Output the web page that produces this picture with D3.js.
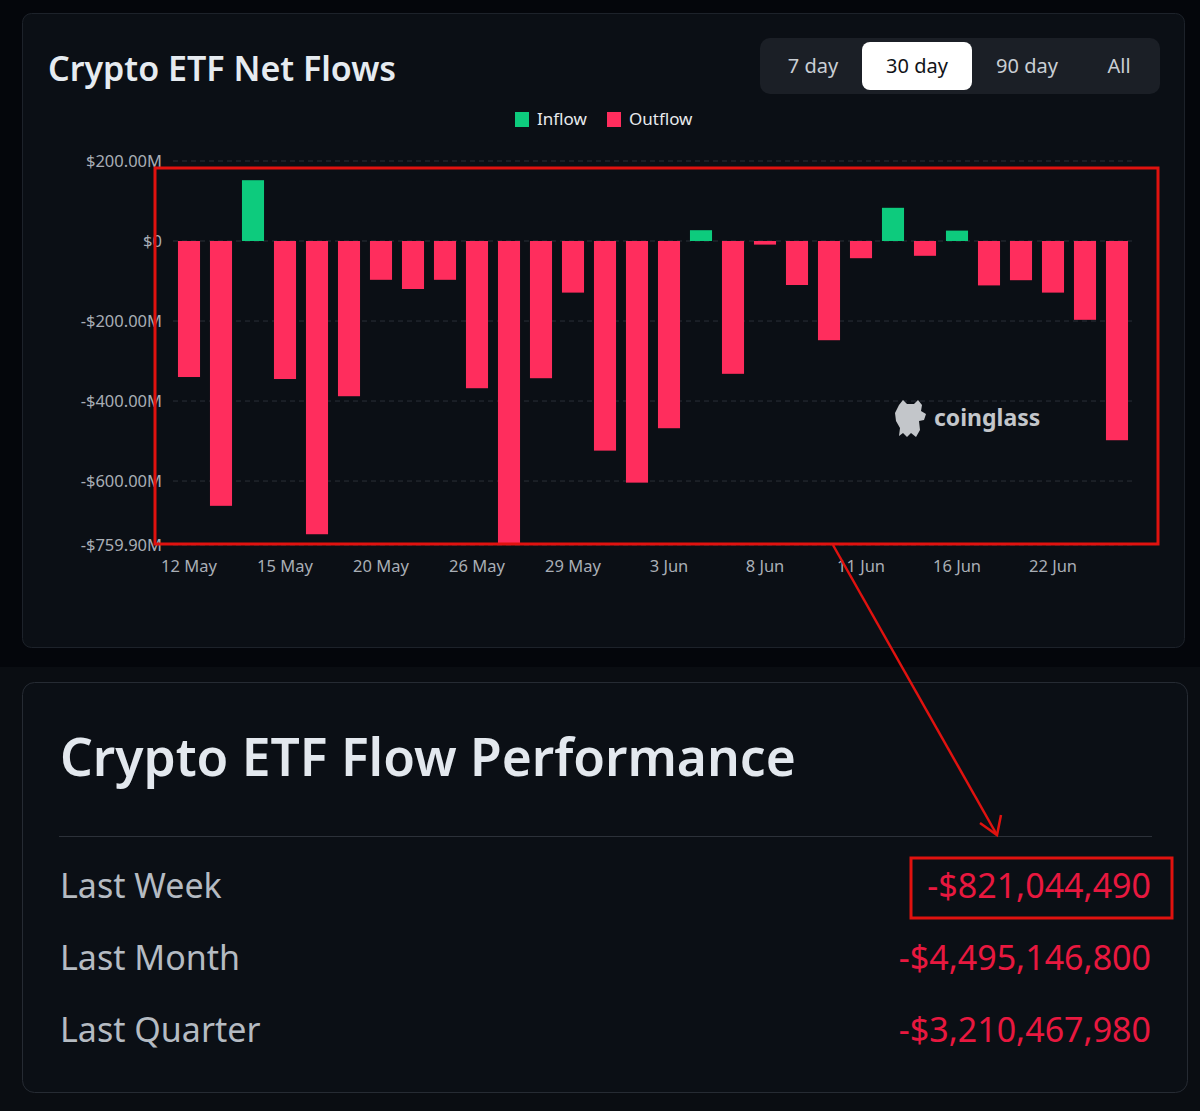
<!DOCTYPE html>
<html>
<head>
<meta charset="utf-8">
<script src="https://cdn.jsdelivr.net/npm/d3@7"></script>
<style>
  html, body { margin: 0; padding: 0; background: #05070c; }
  svg { display: block; }
  text { font-family: "Noto Sans", Roboto, sans-serif; }
</style>
</head>
<body>
<svg id="chart" width="1200" height="1111"></svg>
<script>
// chart data
var dates = ["12 May", "13 May", "14 May", "15 May", "16 May", "19 May", "20 May", "21 May", "22 May", "26 May",
             "27 May", "28 May", "29 May", "30 May", "2 Jun", "3 Jun", "4 Jun", "5 Jun", "8 Jun", "9 Jun",
             "10 Jun", "11 Jun", "12 Jun", "13 Jun", "16 Jun", "17 Jun", "18 Jun", "22 Jun", "23 Jun", "24 Jun"];
// net flows in $M
var flows = [-340, -662, 152, -345, -733, -388, -97, -120, -97, -368,
             -759.9, -343, -129, -524, -604, -468, 27, -332, -9, -110,
             -248, -43, 83, -37, 26, -111, -98, -129, -197, -498];
var yTicks = [200, 0, -200, -400, -600, -759.9];
var xLabels = ["12 May", "15 May", "20 May", "26 May", "29 May", "3 Jun", "8 Jun", "11 Jun", "16 Jun", "22 Jun"];
var periods = ["7 day", "30 day", "90 day", "All"];
var activePeriod = "30 day";
var perfLabels = ["Last Week", "Last Month", "Last Quarter"];
var perfValues = [-821044490, -4495146800, -3210467980];

var svg = d3.select("#chart");
var red = "#ff2d5d", green = "#0dcb7d";

// backgrounds
svg.append("rect").attr("x", 0).attr("y", 0).attr("width", 1200).attr("height", 667).attr("fill", "#04060b");
svg.append("rect").attr("x", 0).attr("y", 667).attr("width", 1200).attr("height", 444).attr("fill", "#0a0d12");
svg.append("rect").attr("x", 22.5).attr("y", 13.5).attr("width", 1162).attr("height", 634).attr("rx", 9)
    .attr("fill", "#0b0f15").attr("stroke", "#1d222a");
svg.append("rect").attr("x", 22.5).attr("y", 682.5).attr("width", 1165).attr("height", 410).attr("rx", 12)
    .attr("fill", "#0b0f15").attr("stroke", "#262b33");

// title
svg.append("text").attr("x", 48).attr("y", 81).text("Crypto ETF Net Flows")
    .attr("font-size", 34).attr("font-weight", 600).attr("fill", "#e6ebf0");

// period switch
var sw = svg.append("g");
sw.append("rect").attr("x", 760).attr("y", 38).attr("width", 400).attr("height", 56).attr("rx", 10).attr("fill", "#1b1f26");
var swX = d3.scaleOrdinal().domain(periods).range([813, 917, 1027, 1119]);
var swW = d3.scaleOrdinal().domain(periods).range([90, 110, 100, 70]);
sw.selectAll("rect.sel").data(periods.filter(function (p) { return p === activePeriod; }))
    .enter().append("rect").attr("class", "sel")
    .attr("x", function (d) { return swX(d) - swW(d) / 2; })
    .attr("y", 42).attr("width", function (d) { return swW(d); }).attr("height", 48).attr("rx", 8)
    .attr("fill", "#ffffff");
sw.selectAll("text").data(periods).enter().append("text")
    .attr("x", function (d) { return swX(d); }).attr("y", 66).attr("dy", "0.35em")
    .attr("text-anchor", "middle").attr("font-size", 20)
    .attr("fill", function (d) { return d === activePeriod ? "#111318" : "#c9ced4"; })
    .text(function (d) { return d; });

// legend
var legend = svg.append("g");
[["Inflow", green, 515], ["Outflow", red, 607]].forEach(function (l) {
    legend.append("rect").attr("x", l[2]).attr("y", 112).attr("width", 14).attr("height", 15).attr("fill", l[1]);
    legend.append("text").attr("x", l[2] + 22).attr("y", 119).attr("dy", "0.35em")
        .attr("font-size", 17).attr("fill", "#e8eaed").text(l[0]);
});

// scales
var x = d3.scaleBand().domain(dates).range([173, 1133]).paddingInner(0.31).paddingOuter(0.155);
var y = d3.scaleLinear().domain([-759.9, 200]).range([545, 161]);

function fmtM(v) {
    if (v === 0) return "$0";
    return (v < 0 ? "-" : "") + "$" + Math.abs(v).toFixed(2) + "M";
}

// grid
svg.append("g").selectAll("line").data(yTicks).enter().append("line")
    .attr("x1", 173).attr("x2", 1133)
    .attr("y1", function (d) { return y(d); }).attr("y2", function (d) { return y(d); })
    .attr("stroke", "#2b3038").attr("stroke-dasharray", "5,4");

// y axis
var yAxis = svg.append("g").attr("transform", "translate(162,0)")
    .call(d3.axisLeft(y).tickValues(yTicks).tickFormat(fmtM).tickSize(0).tickPadding(0));
yAxis.select(".domain").remove();
yAxis.selectAll("text").attr("font-size", 16.5).attr("fill", "#a9aeb5")
    .style("font-family", "'Noto Sans', sans-serif");

// x axis
var xAxis = svg.append("g").attr("transform", "translate(0,560)")
    .call(d3.axisBottom(x).tickValues(xLabels).tickSize(0).tickPadding(0));
xAxis.select(".domain").remove();
xAxis.selectAll("text").attr("font-size", 16.5).attr("fill", "#a9aeb5").attr("dy", "0.71em")
    .style("font-family", "'Noto Sans', sans-serif");

// bars
svg.append("g").selectAll("rect").data(flows).enter().append("rect")
    .attr("x", function (d, i) { return x(dates[i]); })
    .attr("width", x.bandwidth())
    .attr("y", function (d) { return y(Math.max(0, d)); })
    .attr("height", function (d) { return Math.abs(y(d) - y(0)); })
    .attr("fill", function (d) { return d >= 0 ? green : red; });

// watermark
var wm = svg.append("g").attr("fill", "#c3c6ca");
wm.append("path").attr("d",
    "M899,405 L903,400 L907,404 L914,404 L918,400 L922,405 L921,411 L926,414 L924,420 L919,421 " +
    "L920,430 L916,437 L911,433 L907,437 L903,433 L899,436 L900,428 L896,421 L895,413 Z");
wm.append("text").attr("x", 934).attr("y", 418).attr("dy", "0.35em")
    .attr("font-size", 23).attr("font-weight", 700).attr("fill", "#c3c6ca").text("coinglass");

// performance card
svg.append("text").attr("x", 60).attr("y", 776).text("Crypto ETF Flow Performance")
    .attr("font-size", 51.5).attr("font-weight", 600).attr("fill", "#e3e8ee");
svg.append("line").attr("x1", 59).attr("x2", 1152).attr("y1", 836.5).attr("y2", 836.5).attr("stroke", "#2c3139");

var rowY = d3.scalePoint().domain(perfLabels).range([886, 1030]);
var fmtUsd = d3.format(",.0f");
var rows = svg.append("g").selectAll("g").data(perfLabels).enter().append("g");
rows.append("text").attr("x", 60).attr("y", function (d) { return rowY(d); }).attr("dy", "0.35em")
    .attr("font-size", 34).attr("fill", "#b5bbc2").text(function (d) { return d; });
rows.append("text").attr("x", 1151).attr("y", function (d) { return rowY(d); }).attr("dy", "0.35em")
    .attr("text-anchor", "end").attr("font-size", 34).attr("fill", "#e8183f")
    .text(function (d, i) { var v = perfValues[i]; return (v < 0 ? "-$" : "$") + fmtUsd(Math.abs(v)); });

// annotation
var ann = svg.append("g").attr("fill", "none").attr("stroke", "#e0120f").attr("stroke-width", 3);
ann.append("rect").attr("x", 155).attr("y", 168).attr("width", 1003).attr("height", 376);
ann.append("rect").attr("x", 911).attr("y", 858).attr("width", 261).attr("height", 60);
ann.append("line").attr("x1", 833).attr("y1", 545).attr("x2", 997).attr("y2", 835).attr("stroke-width", 2.5);
ann.append("path").attr("d", "M980,823 L997,835 L1001,815").attr("stroke-width", 2.5);
</script>
</body>
</html>
